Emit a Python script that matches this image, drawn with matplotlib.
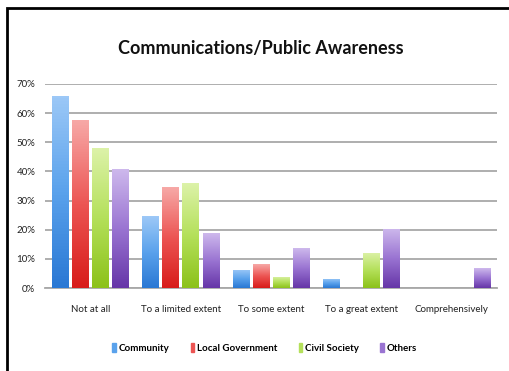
import numpy as np
import matplotlib.pyplot as plt
from matplotlib.colors import LinearSegmentedColormap
from matplotlib.patches import Rectangle

categories = ['Not at all', 'To a limited extent', 'To some extent',
              'To a great extent', 'Comprehensively']
series_names = ['Community', 'Local Government', 'Civil Society', 'Others']
community = [66.0, 24.7, 6.2, 3.1, 0.0]
local_government = [57.5, 34.6, 8.2, 0.0, 0.0]
civil_society = [48.0, 36.0, 3.9, 12.1, 0.0]
others = [40.8, 18.8, 13.6, 20.3, 6.8]
y_ticks = [0, 10, 20, 30, 40, 50, 60, 70]

# bottom, middle, top shades for the office-style gradient fill
shades = [('#2a78d4', '#5aa2ec', '#9cc8f7'),
          ('#d81c1a', '#ec5553', '#f7a8a6'),
          ('#8cc21a', '#b4e05a', '#dcf2a8'),
          ('#6636a8', '#9a74d2', '#cdb8ec')]

plt.rcParams['font.family'] = ['Lato', 'DejaVu Sans']

fig = plt.figure(figsize=(5.09, 3.71), dpi=100)
ax = fig.add_axes([0.0884, 0.2237, 0.888, 0.5499])

data = [community, local_government, civil_society, others]
x = np.arange(len(categories))
step = 0.222
width = 0.18

grad = np.linspace(0, 1, 64).reshape(-1, 1)
for i, (vals, cols) in enumerate(zip(data, shades)):
    cmap = LinearSegmentedColormap.from_list('s%d' % i, list(cols))
    pos = x + (i - 1.5) * step
    bars = ax.bar(pos, vals, width, color=cols[1], label=series_names[i], zorder=2)
    for b in bars:
        h = b.get_height()
        if h <= 0:
            continue
        x0 = b.get_x()
        im = ax.imshow(grad, cmap=cmap, aspect='auto', origin='lower',
                       extent=[x0, x0 + width, 0, h], zorder=3)
        im.set_clip_path(b)

ax.set_xlim(-0.5, len(categories) - 0.5)
ax.set_ylim(0, 70)
ax.set_yticks(y_ticks)
ax.set_yticklabels(['%d%%' % t for t in y_ticks])
ax.set_xticks(x)
ax.set_xticklabels(categories)
ax.tick_params(axis='both', length=0, labelsize=7, colors='#222222')
ax.tick_params(axis='y', pad=7)
ax.tick_params(axis='x', pad=12)
ax.yaxis.grid(True, color='#a8a8a8', linewidth=1.3, zorder=0)
ax.set_axisbelow(True)
for side in ['left', 'right', 'top']:
    ax.spines[side].set_visible(False)
ax.spines['bottom'].set_color('#a8a8a8')
ax.spines['bottom'].set_linewidth(1.3)

fig.text(0.512, 0.87, 'Communications/Public Awareness', ha='center', va='center',
         fontsize=13, fontweight='bold', color='#111111')

handles = [Rectangle((0, 0), 1, 1, color=s[1]) for s in shades]
fig.legend(handles, series_names, loc='center', bbox_to_anchor=(0.52, 0.062),
           ncol=4, frameon=False, handlelength=0.35, handleheight=1.0,
           handletextpad=0.3, columnspacing=2.2,
           prop={'family': ['Lato', 'DejaVu Sans'], 'weight': 'bold', 'size': 7})

# outer frame around the chart
fig.add_artist(Rectangle((6.5 / 509, -0.05), 1.2, 1 - 8 / 371 + 0.05,
                         transform=fig.transFigure, fill=False,
                         edgecolor='black', linewidth=2))

fig.savefig('out.png', dpi=100)
